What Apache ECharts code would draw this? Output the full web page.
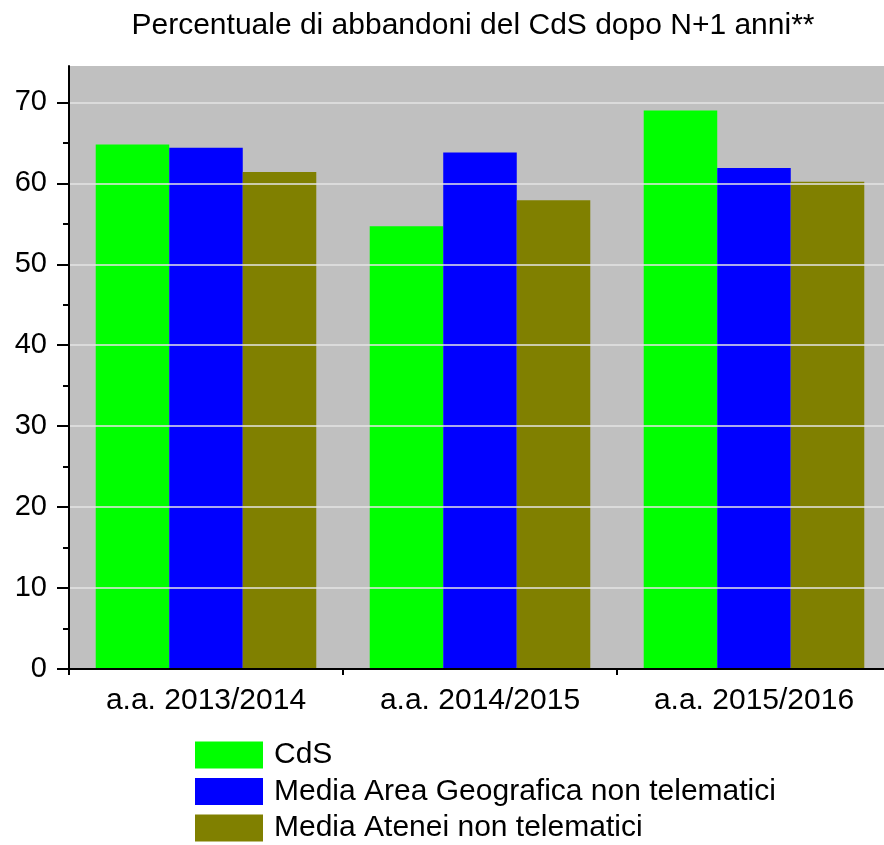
<!DOCTYPE html>
<html>
<head>
<meta charset="utf-8">
<title>Percentuale di abbandoni</title>
<script src="https://cdn.jsdelivr.net/npm/echarts@6/dist/echarts.min.js"></script>
<style>
  html, body { margin: 0; padding: 0; background: #fff; }
  #Mycharts { width: 884px; height: 845px; }
</style>
</head>
<body>
<div id="Mycharts"></div>
<script>
// dati
const categories = ['a.a. 2013/2014', 'a.a. 2014/2015', 'a.a. 2015/2016']
const seriesNames = ['CdS', 'Media Area Geografica non telematici', 'Media Atenei non telematici']
const cds = [64.8, 54.7, 69.0]
const mediaArea = [64.4, 63.8, 61.9]
const mediaAtenei = [61.4, 57.9, 60.2]
const yMajorTicks = [0, 10, 20, 30, 40, 50, 60, 70]
const yMinorTicks = [5, 15, 25, 35, 45, 55, 65]
const xBoundaryTicks = [0, 1, 2, 3]

const font = "'Liberation Sans', Arial, sans-serif"

let Mycharts = echarts.init(document.getElementById('Mycharts'))
Mycharts.setOption({
  animation: false,
  title: {
    text: 'Percentuale di abbandoni del CdS dopo N+1 anni**',
    left: 468,
    textAlign: 'center',
    top: 6,
    textStyle: { fontFamily: font, fontSize: 30, fontWeight: 'normal', color: '#000' }
  },
  legend: {
    orient: 'vertical',
    left: 195,
    top: 740,
    height: 140,
    icon: 'rect',
    itemWidth: 68,
    itemHeight: 27,
    itemGap: 6.5,
    padding: 0,
    data: seriesNames,
    textStyle: { fontFamily: font, fontSize: 30, color: '#000', padding: [0, 0, 0, 6] }
  },
  grid: {
    left: 69,
    top: 66,
    width: 822,
    height: 603,
    outerBoundsMode: 'none',
    show: true,
    backgroundColor: '#c0c0c0',
    borderWidth: 0
  },
  xAxis: [
    {
      type: 'category',
      data: categories,
      axisLine: { lineStyle: { color: '#000', width: 2 } },
      axisTick: { alignWithLabel: true, length: 11, lineStyle: { color: '#000', width: 2 } },
      axisLabel: { fontFamily: font, fontSize: 30, color: '#000', margin: 17 },
      z: 5
    },
    {
      // tacche piccole ai bordi delle categorie
      type: 'value',
      position: 'bottom',
      min: 0,
      max: 3,
      interval: 1,
      axisLine: { show: false },
      axisTick: { show: true, customValues: xBoundaryTicks, length: 6, lineStyle: { color: '#000', width: 2 } },
      axisLabel: { show: false },
      splitLine: { show: false }
    }
  ],
  yAxis: [
    {
      type: 'value',
      min: 0,
      max: 74.5,
      interval: 10,
      axisLine: { show: true, lineStyle: { color: '#000', width: 2 } },
      axisTick: { show: true, customValues: yMajorTicks, length: 12, lineStyle: { color: '#000', width: 2 } },
      axisLabel: { customValues: yMajorTicks, fontFamily: font, fontSize: 29, color: '#000', margin: 22 },
      splitLine: { show: true, lineStyle: { color: '#e4e4e4', width: 1.5 } },
      z: 5
    },
    {
      type: 'value',
      position: 'left',
      min: 0,
      max: 74.5,
      interval: 10,
      axisLine: { show: false },
      axisTick: { show: true, customValues: yMinorTicks, length: 6, lineStyle: { color: '#000', width: 2 } },
      axisLabel: { show: false },
      splitLine: { show: false }
    }
  ],
  series: [
    {
      name: seriesNames[0],
      type: 'bar',
      barGap: '0%',
      barCategoryGap: '19.5%',
      itemStyle: { color: '#00ff00' },
      data: cds
    },
    {
      name: seriesNames[1],
      type: 'bar',
      barGap: '0%',
      barCategoryGap: '19.5%',
      itemStyle: { color: '#0000ff' },
      data: mediaArea
    },
    {
      name: seriesNames[2],
      type: 'bar',
      barGap: '0%',
      barCategoryGap: '19.5%',
      itemStyle: { color: '#808000' },
      data: mediaAtenei
    }
  ]
})
</script>
</body>
</html>
